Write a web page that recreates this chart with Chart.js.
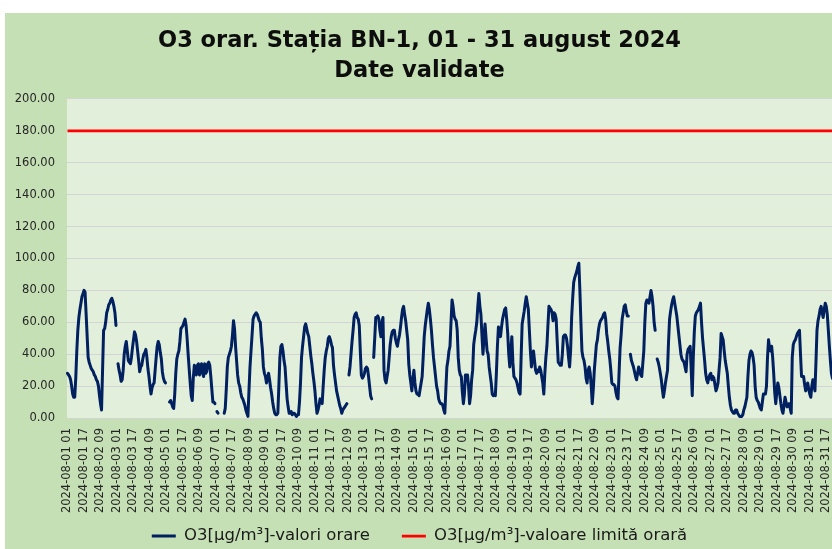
<!DOCTYPE html>
<html>
<head>
<meta charset="utf-8">
<script src="https://cdn.jsdelivr.net/npm/chart.js@4.4.1/dist/chart.umd.min.js"></script>
<style>
  html, body { margin: 0; padding: 0; background: #fff; overflow: hidden; }
  #wrap { position: absolute; left: 5px; top: 13px; width: 835px; height: 536px; background: #c5e0b4; }
</style>
</head>
<body>
<div id="wrap"><canvas id="o3Chart"></canvas></div>
<script>
// hourly O3 values, one row per day (hours 01 .. 24), null = missing hour
const o3Hourly = [
  28, 27, 26, 24, 20, 15, 13, 13, 25, 42, 55, 63, 68, 72, 76, 78, 80, 79, 66, 52, 38, 35, 33, 31,
  30, 29, 27, 26, 24, 23, 20, 14, 9, 5, 30, 55, 56, 60, 66, 68, 71, 72, 74, 75, 73, 70, 66, 58,
  null, 34, 30, 27, 23, 24, 30, 40, 45, 48, 42, 36, 35, 34, 38, 44, 49, 54, 52, 48, 42, 36, 29, 32,
  33, 37, 40, 41, 43, 38, 31, 26, 20, 15, 19, 21, 22, 30, 38, 45, 48, 46, 41, 37, 29, 25, 23, 22,
  null, null, null, 10, 11, 9, 7, 6, 15, 28, 37, 40, 42, 48, 56, 57, 58, 60, 62, 58, 50, 40, 31, 22,
  14, 11, 25, 33, 30, 27, 33, 34, 27, 31, 34, 28, 26, 34, 28, 29, 34, 35, 33, 26, 18, 10, 10, 9,
  null, 4, 3, null, null, null, null, null, 3, 6, 18, 32, 38, 40, 42, 45, 52, 61, 56, 45, 36, 27, 22, 20,
  16, 13, 12, 10, 8, 5, 3, 1, 17, 32, 42, 52, 62, 64, 65, 66, 65, 63, 61, 60, 50, 43, 32, 28,
  26, 22, 25, 28, 24, 19, 15, 10, 6, 3, 2, 2, 3, 20, 38, 45, 46, 42, 36, 32, 22, 12, 7, 3,
  3, 4, 2, 3, 3, 2, 1, 2, 2, 10, 22, 38, 45, 51, 57, 59, 56, 53, 51, 45, 39, 34, 28, 23,
  17, 9, 3, 5, 8, 12, 11, 9, 20, 30, 38, 42, 45, 50, 51, 49, 46, 44, 33, 27, 22, 17, 14, 11,
  8, 6, 3, 5, 6, 7, 8, 9, null, 27, 32, 40, 48, 55, 63, 65, 66, 63, 62, 58, 42, 27, 25, 26,
  28, 31, 32, 31, 26, 20, 14, 12, null, 38, 50, 63, 63, 64, 62, 55, 51, 60, 63, 30, 24, 22, 26, 30,
  38, 46, 51, 54, 55, 55, 50, 47, 45, 49, 52, 57, 63, 68, 70, 65, 61, 55, 49, 34, 27, 22, 17, 24,
  30, 22, 17, 15, 15, 14, 18, 22, 26, 38, 51, 58, 63, 68, 72, 68, 62, 55, 46, 38, 32, 26, 20, 17,
  12, 10, 9, 9, 8, 5, 3, 18, 32, 36, 42, 45, 60, 74, 70, 64, 62, 61, 55, 38, 30, 27, 26, 16,
  9, 15, 27, 27, 27, 20, 9, 14, 24, 30, 46, 51, 55, 60, 70, 78, 70, 65, 52, 40, 50, 59, 50, 42,
  40, 32, 27, 22, 15, 14, 15, 14, 28, 45, 57, 53, 51, 57, 62, 65, 68, 69, 62, 53, 40, 32, 42, 51,
  35, 26, 25, 24, 22, 19, 16, 15, 38, 59, 63, 67, 72, 76, 72, 68, 55, 42, 32, 38, 42, 36, 30, 28,
  30, 29, 32, 30, 26, 22, 15, 28, 38, 45, 58, 70, 69, 68, 66, 61, 66, 65, 62, 48, 35, 34, 33, 33,
  40, 51, 52, 52, 50, 45, 38, 32, 42, 63, 75, 85, 88, 90, 92, 95, 97, 80, 60, 42, 38, 36, 32, 25,
  22, 30, 32, 28, 20, 9, 18, 30, 38, 46, 49, 55, 59, 61, 62, 63, 65, 66, 62, 53, 48, 42, 37, 30,
  22, 21, 21, 20, 16, 13, 12, 28, 44, 52, 62, 66, 70, 71, 67, 64, 64, null, 40, 36, 34, 32, 29, 26,
  24, 28, 32, 30, 27, 26, 34, 42, 60, 72, 74, 73, 72, 76, 80, 76, 70, 60, 55, null, 37, 35, 32, 28,
  24, 18, 13, 17, 22, 26, 30, 48, 62, 67, 71, 74, 76, 72, 68, 64, 58, 52, 46, 40, 37, 36, 35, 32,
  29, 40, 43, 44, 45, 30, 14, 38, 54, 64, 66, 67, 68, 70, 72, 60, 50, 43, 36, 28, 24, 22, 25, 27,
  28, 24, 26, 25, 21, 17, 19, 22, 30, 38, 53, 51, 49, 42, 36, 32, 28, 20, 13, 8, 5, 4, 3, 3,
  5, 5, 3, 2, 1, 1, 1, 2, 5, 7, 10, 13, 26, 36, 40, 42, 41, 38, 33, 20, 13, 11, 10, 8,
  6, 5, 10, 15, 15, 15, 20, 38, 49, 44, 42, 45, 38, 28, 16, 9, 16, 22, 19, 14, 9, 5, 3, 8,
  13, 10, 7, 8, 9, 6, 3, 38, 46, 48, 49, 51, 53, 54, 55, 40, 26, 26, 26, 21, 17, 19, 22, 18,
  15, 13, 20, 24, 21, 17, 35, 55, 61, 64, 68, 70, 66, 63, 68, 72, 70, 65, 55, 45, 36, 28, 25, 24
];
const hourlyLimit = 180;
const firstHour = Date.UTC(2024, 7, 1, 1);
const labelStep = 16;
const yTicks = [0, 20, 40, 60, 80, 100, 120, 140, 160, 180, 200];

const seriesNames = ["O3[μg/m³]-valori orare", "O3[μg/m³]-valoare limită orară"];
const titleLines = ["O3 orar. Stația BN-1, 01 - 31 august 2024", "Date validate"];

// category labels "2024-08-01 01", one per hour
const hourLabels = o3Hourly.map((v, i) => {
  const iso = new Date(firstHour + i * 3600000).toISOString();
  return iso.slice(0, 10) + " " + iso.slice(11, 13);
});

Chart.defaults.font.family = "'DejaVu Sans', sans-serif";
Chart.defaults.color = "#262626";

const plotBackground = {
  id: "plotBackground",
  beforeDraw(chart) {
    const { ctx, chartArea } = chart;
    ctx.save();
    ctx.fillStyle = "#e2efda";
    ctx.fillRect(chartArea.left, chartArea.top, chartArea.right - chartArea.left, chartArea.bottom - chartArea.top);
    ctx.restore();
  }
};

// the rotated date labels run into the empty top of the legend box, so let them draw there
const labelRoom = {
  id: "labelRoom",
  afterLayout(chart) {
    chart.scales.x.bottom = chart.height;
  }
};

new Chart(document.getElementById("o3Chart"), {
  type: "line",
  data: {
    labels: hourLabels,
    datasets: [
      {
        label: seriesNames[0],
        data: o3Hourly,
        borderColor: "#002060",
        backgroundColor: "#002060",
        borderWidth: 3,
        pointRadius: 0,
        tension: 0,
        spanGaps: false,
        borderJoinStyle: "round",
        borderCapStyle: "round",
        pointStyle: "line"
      },
      {
        label: seriesNames[1],
        data: hourLabels.map(() => hourlyLimit),
        borderColor: "#ff0000",
        backgroundColor: "#ff0000",
        borderWidth: 2.75,
        pointRadius: 0,
        pointStyle: "line"
      }
    ]
  },
  options: {
    responsive: true,
    maintainAspectRatio: false,
    animation: false,
    layout: { padding: { left: 0, right: 6, top: 0, bottom: 0 } },
    plugins: {
      title: {
        display: true,
        text: titleLines,
        color: "#0d0d0d",
        font: { size: 22.5, weight: "bold", lineHeight: 1.3333 },
        padding: { top: 13.5, bottom: 12.5 }
      },
      legend: {
        position: "bottom",
        maxHeight: 53.25,
        labels: {
          usePointStyle: true,
          pointStyleWidth: 24,
          padding: 32,
          color: "#1a1a1a",
          font: { size: 16.5 }
        }
      },
      tooltip: { enabled: false }
    },
    scales: {
      x: {
        type: "category",
        offset: true,
        afterFit: (scale) => {
          scale.height = 77.75;
          scale.paddingLeft = 0;
          scale.paddingRight = 0;
        },
        grid: { display: false, drawTicks: false },
        border: { display: false },
        ticks: {
          autoSkip: false,
          minRotation: 90,
          maxRotation: 90,
          padding: 10,
          font: { size: 11.5 },
          callback: (val, i) => (i % labelStep === 0 ? hourLabels[i] : "")
        }
      },
      y: {
        min: yTicks[0],
        max: yTicks[yTicks.length - 1],
        afterFit: (scale) => { scale.width = 62; },
        afterBuildTicks: (scale) => { scale.ticks = yTicks.map((v) => ({ value: v })); },
        grid: { color: "#d4d4d4", drawTicks: false },
        border: { display: false },
        ticks: {
          padding: 12,
          font: { size: 11.5 },
          callback: (v) => v.toFixed(2)
        }
      }
    }
  },
  plugins: [plotBackground, labelRoom]
});
</script>
</body>
</html>
